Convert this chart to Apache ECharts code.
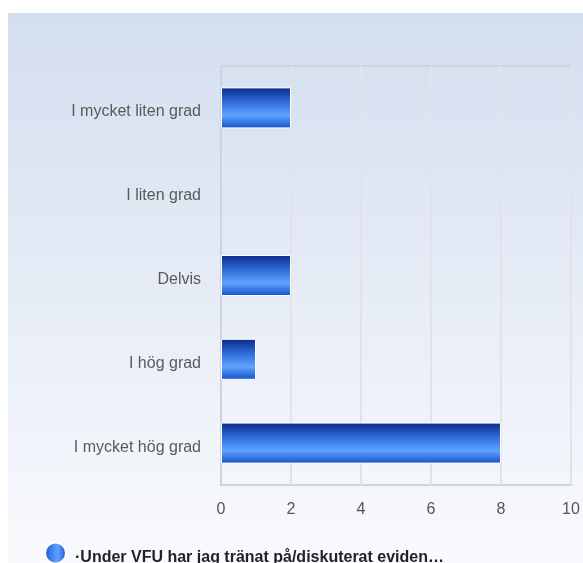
<!DOCTYPE html>
<html><head><meta charset="utf-8">
<script src="https://cdn.jsdelivr.net/npm/echarts@6/dist/echarts.min.js"></script>
<style>html,body{margin:0;padding:0;background:#fff}#c{width:583px;height:563px}</style>
</head><body><div id="c"></div>
<script>
const categories = ['I mycket liten grad', 'I liten grad', 'Delvis', 'I hög grad', 'I mycket hög grad'];
const values = [2, 0, 2, 1, 8];
const seriesName = '·Under VFU har jag tränat på/diskuterat eviden…';
const xTicks = { min: 0, max: 10, interval: 2 };

const chart = echarts.init(document.getElementById('c'), null, { renderer: 'canvas' });
const barGrad = new echarts.graphic.LinearGradient(0, 0, 0, 1, [
  { offset: 0, color: '#0a2a88' },
  { offset: 0.35, color: '#2f6ad8' },
  { offset: 0.68, color: '#5ea4ff' },
  { offset: 1, color: '#1550c8' }
]);
chart.setOption({
  animation: false,
  graphic: [{
    type: 'rect', z: -10, silent: true,
    shape: { x: 8, y: 13, width: 575, height: 550 },
    style: { fill: new echarts.graphic.LinearGradient(0, 0, 0, 1, [
      { offset: 0, color: '#d3deef' },
      { offset: 1, color: '#f9fafd' }
    ]) }
  }],
  grid: { left: 221, top: 66, right: 12, bottom: 78, show: true, borderColor: '#d0d3d8', borderWidth: 2, backgroundColor: 'transparent' },
  legend: {
    left: 39, bottom: -8, itemWidth: 21, itemHeight: 21, icon: 'circle', itemGap: 10,
    formatter: n => '{t|' + n + '}',
    textStyle: { rich: { t: { fontFamily: 'Liberation Sans, Arial', fontSize: 16, fontWeight: 'bold', color: '#222', padding: [10, 0, 0, 4] } } },
    data: [{ name: seriesName, itemStyle: { color: new echarts.graphic.LinearGradient(0, 0, 1, 0, [
      { offset: 0, color: '#1c55d0' }, { offset: 0.6, color: '#5ea4ff' }, { offset: 1, color: '#1a4fc2' }]) } }]
  },
  xAxis: {
    type: 'value', min: xTicks.min, max: xTicks.max, interval: xTicks.interval,
    axisLine: { show: false }, axisTick: { show: false },
    splitLine: { lineStyle: { color: '#e1e3e6', width: 2 } },
    axisLabel: { margin: 17, fontFamily: 'Liberation Sans, Arial', fontSize: 16, color: '#555' }
  },
  yAxis: {
    type: 'category', data: categories, inverse: true,
    axisLine: { lineStyle: { color: '#cdd3df', width: 2 } }, axisTick: { show: false },
    axisLabel: {
      margin: 20,
      formatter: v => '{l|' + v + '}',
      rich: { l: { fontFamily: 'Liberation Sans, Arial', fontSize: 16, color: '#5a5a5a', padding: [8, 0, 0, 0] } }
    }
  },
  series: [{
    name: seriesName, type: 'bar', barWidth: 41,
    data: values.map(v => v === 0 ? { value: v, itemStyle: { borderWidth: 0, opacity: 0 } } : v),
    itemStyle: { color: barGrad, borderColor: '#ffffff', borderWidth: 1 }
  }]
});
</script></body></html>
